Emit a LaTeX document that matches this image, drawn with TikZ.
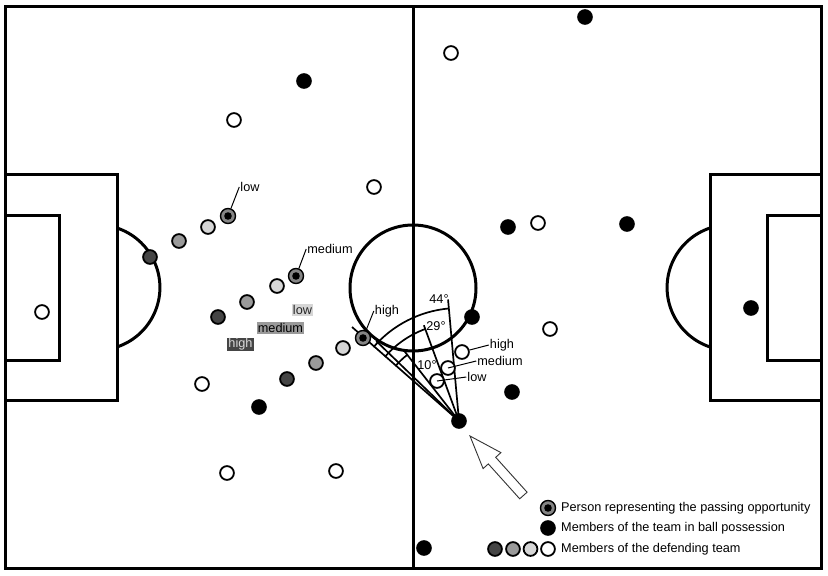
\documentclass[tikz,border=0pt]{standalone}
\usepackage{fontspec}
\setmainfont{Liberation Sans}
\usetikzlibrary{calc}
\definecolor{darkdef}{HTML}{454545}
\definecolor{middef}{HTML}{9A9A9A}
\definecolor{lightdef}{HTML}{D6D6D6}
\definecolor{tgtgrey}{HTML}{858585}
\begin{document}
\begin{tikzpicture}[x=1pt,y=-1pt,
  pitch/.style={line width=3pt},
  pl/.style={circle, draw=black, line width=1.8pt, minimum size=13.8pt, inner sep=0pt},
  blk/.style={pl, fill=black},
  wht/.style={pl, fill=white},
  lgt/.style={pl, fill=lightdef},
  mdd/.style={pl, fill=middef},
  drk/.style={pl, fill=darkdef},
  tgt/.style={pl, fill=tgtgrey, line width=1.4pt, minimum size=15pt,
    path picture={\fill[black] (path picture bounding box.center) circle (3.8pt);}},
  lbl/.style={font=\fontsize{12.7}{14}\selectfont, inner sep=1pt},
  ptr/.style={line width=1pt},
  ang/.style={line width=1.7pt},
  hollow/.style={line width=0.9pt, draw=black!80, fill=white},
]
\useasboundingbox (0,0) rectangle (828,576);
\fill[white] (0,0) rectangle (828,576);

% pitch
\draw[pitch] (5,6) rectangle (821,568);
\draw[pitch] (413,6) -- (413,568);
\draw[pitch] (413,288) circle (63pt);
\draw[pitch] (5,174) rectangle (117,400);
\draw[pitch] (5,215) rectangle (59,360);
\draw[pitch] (117,228) arc[start angle=71.6, end angle=-71.6, radius=62.7pt];
\draw[pitch] (710,174) rectangle (821,400);
\draw[pitch] (767,215) rectangle (821,360);
\draw[pitch] (710,228) arc[start angle=108.4, end angle=251.6, radius=62.7pt];

% ball carrier position and angle construction
\coordinate (Cc) at (459,421);
\coordinate (eL1) at (352,327);
\coordinate (eL2) at ($(Cc)+(136:115pt)$);
\coordinate (e10) at ($(Cc)+(128:90pt)$);
\coordinate (e29) at ($(Cc)+(110.15:102pt)$);
\coordinate (e44) at ($(Cc)+(95.15:122pt)$);
\draw[ang] (Cc) -- (eL1);
\draw[ang] (Cc) -- (eL2);
\draw[ang] (Cc) -- (e10);
\draw[ang] (Cc) -- (e29);
\draw[ang] (Cc) -- (e44);
\draw[ang] ($(Cc)+(139.15:113pt)$) arc[start angle=139.15, end angle=95.15, radius=113pt];
\draw[ang] ($(Cc)+(139.15:98pt)$) arc[start angle=139.15, end angle=110.15, radius=98pt];
\draw[ang] ($(Cc)+(139.15:84pt)$) arc[start angle=139.15, end angle=128, radius=84pt];

% players left half
\node[blk] (b1) at (304,81) {};
\node[wht] (w1) at (234,120) {};
\node[wht] (w2) at (374,187) {};
\node[tgt] (t1) at (228,216) {};
\node[lgt] (lg1) at (208,227) {};
\node[mdd] (mg1) at (179,241) {};
\node[drk] (dg1) at (150,257) {};
\node[tgt] (t2) at (296,276) {};
\node[lgt] (lg2) at (277,286) {};
\node[mdd] (mg2) at (247,302) {};
\node[drk] (dg2) at (218,317) {};
\node[tgt] (t3) at (363,338) {};
\node[lgt] (lg3) at (343,348) {};
\node[mdd] (mg3) at (316,363) {};
\node[drk] (dg3) at (287,379) {};
\node[wht] (w3) at (202,384) {};
\node[blk] (b2) at (259,407) {};
\node[wht] (w4) at (227,473) {};
\node[wht] (w5) at (336,471) {};
\node[wht] (w6) at (42,312) {};

% players right half
\node[blk] (b3) at (585,17) {};
\node[wht] (w7) at (451,53) {};
\node[blk] (b4) at (508,227) {};
\node[wht] (w8) at (538,223) {};
\node[blk] (b5) at (627,224) {};
\node[blk] (b6) at (472,317) {};
\node[wht] (w9) at (550,329) {};
\node[wht] (dh) at (462,352) {};
\node[wht] (dm) at (448,368) {};
\node[wht] (dl) at (437,381) {};
\node[blk] (b7) at (512,392) {};
\node[blk] (C) at (459,421) {};
\node[blk] (b8) at (751,308) {};
\node[blk] (b9) at (424,548) {};

% labels of targets
\node[lbl] (l1) at (250,187) {low};
\node[lbl] (l2) at (330,249) {medium};
\node[lbl] (l3) at (387,311) {high};
\draw[ptr] (l1.west) -- (t1);
\draw[ptr] (l2.west) -- (t2);
\draw[ptr] (l3.west) -- (t3);

% shaded level labels
\node[lbl, fill=lightdef, text=black!85] (blow) at (302.5,310) {low};
\node[lbl, fill=middef, text=black] (bmed) at (280.5,328) {medium};
\node[lbl, fill=darkdef, text=white!85!black] (bhigh) at (240.5,344.5) {high};

% defender labels
\node[lbl] (rh) at (502,345) {high};
\node[lbl] (rm) at (500,361) {medium};
\node[lbl] (rl) at (477,377) {low};
\draw[ptr] (dh) -- (rh.west);
\draw[ptr] (dm.center) -- (rm.west);
\draw[ptr] (dl.center) -- (rl.west);

% angle labels
\node[lbl] (a44) at (439,299) {44°};
\node[lbl] (a29) at (436,326) {29°};
\node[lbl] (a10) at (427,365) {10°};

% hollow arrow
\draw[hollow] (470,436) -- (483.1,468.6) -- (488.3,463.9) -- (519.7,498.8)
  -- (527.1,492.2) -- (495.7,457.3) -- (500.9,452.6) -- cycle;

% legend
\node[tgt] (k1) at (548,508) {};
\node[lbl, anchor=west] (k1t) at (560,508) {Person representing the passing opportunity};
\node[blk] (k2) at (548,528) {};
\node[lbl, anchor=west] (k2t) at (560,528) {Members of the team in ball possession};
\node[drk] (k3a) at (495,549) {};
\node[mdd] (k3b) at (513,549) {};
\node[lgt] (k3c) at (530.5,549) {};
\node[wht] (k3d) at (548,549) {};
\node[lbl, anchor=west] (k3t) at (560,549) {Members of the defending team};
\end{tikzpicture}
\end{document}
